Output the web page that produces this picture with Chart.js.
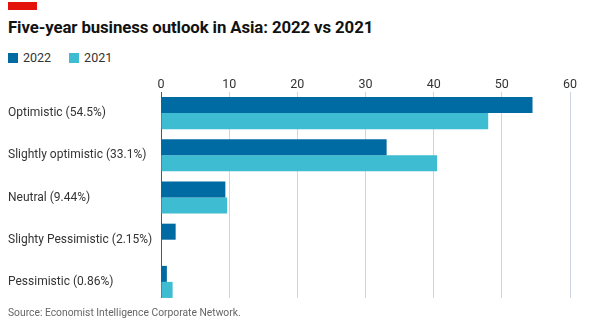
<!DOCTYPE html>
<html>
<head>
<meta charset="utf-8">
<script src="https://cdn.jsdelivr.net/npm/chart.js@4"></script>
<style>
  html, body { margin:0; padding:0; background:#fff; }
  #wrap { position:relative; width:600px; height:327px; overflow:hidden; font-family: Roboto, "Noto Sans", sans-serif; }
  #redbar { position:absolute; left:8px; top:2px; width:29px; height:8px; background:#e3120b; }
  #title { position:absolute; left:8px; top:17px; font-size:16.8px; font-weight:bold; color:#121212; white-space:nowrap; letter-spacing:-0.1px; }
  #legend { position:absolute; left:8px; top:50px; font-size:12.5px; color:#333; white-space:nowrap; }
  .li { display:inline-flex; align-items:center; margin-right:18px; }
  .sw { display:inline-block; width:10px; height:10px; margin-right:5px; }
  #source { position:absolute; left:8px; top:306px; font-size:10.3px; color:#666; white-space:nowrap; }
  canvas { position:absolute; left:0; top:0; }
</style>
</head>
<body>
<div id="wrap">
  <div id="redbar"></div>
  <div id="title">Five-year business outlook in Asia: 2022 vs 2021</div>
  <div id="legend"></div>
  <canvas id="c" width="600" height="327"></canvas>
  <div id="source">Source: Economist Intelligence Corporate Network.</div>
</div>
<script>
const categories = ['Optimistic (54.5%)', 'Slightly optimistic (33.1%)', 'Neutral (9.44%)', 'Slighty Pessimistic (2.15%)', 'Pessimistic (0.86%)'];
const seriesNames = ['2022', '2021'];
const values2022 = [54.5, 33.1, 9.44, 2.15, 0.86];
const values2021 = [48.0, 40.5, 9.7, 0, 1.7];
const xTickValues = [0, 10, 20, 30, 40, 50, 60];
const colors = ['#006ba2', '#3ebcd2'];

const legend = document.getElementById('legend');
seriesNames.forEach((n, i) => {
  const s = document.createElement('span'); s.className = 'li';
  s.innerHTML = '<span class="sw" style="background:' + colors[i] + '"></span>' + n;
  legend.appendChild(s);
});

const maskBottom = {
  id: 'maskBottom',
  beforeDatasetsDraw(chart) {
    const a = chart.chartArea, ctx = chart.ctx;
    ctx.save(); ctx.fillStyle = '#fff';
    ctx.fillRect(a.left - 2, a.bottom - 5, a.right - a.left + 6, 7);
    ctx.restore();
  }
};

new Chart(document.getElementById('c'), {
  type: 'bar',
  data: {
    labels: categories,
    datasets: [
      { label: seriesNames[0], data: values2022, backgroundColor: colors[0], categoryPercentage: 0.76, barPercentage: 1 },
      { label: seriesNames[1], data: values2021, backgroundColor: colors[1], categoryPercentage: 0.76, barPercentage: 1 }
    ]
  },
  options: {
    indexAxis: 'y',
    responsive: false,
    animation: false,
    layout: { padding: { left: 8, right: 30, top: 70, bottom: 24 } },
    plugins: { legend: { display: false }, tooltip: { enabled: false } },
    scales: {
      x: {
        position: 'top',
        min: 0, max: 60,
        afterBuildTicks: s => { s.ticks = xTickValues.map(v => ({ value: v })); },
        afterFit: s => { s.height = 22; },
        grid: { color: '#cdd6de', lineWidth: 1, drawTicks: false },
        border: { display: false },
        ticks: { padding: 0, color: '#333', font: { family: 'Roboto', size: 12.5 } }
      },
      y: {
        afterFit: s => { s.width = 153; },
        grid: { display: false, drawTicks: false },
        border: { display: true, color: '#555', width: 1 },
        ticks: { crossAlign: 'far', padding: 4, color: '#333', font: { family: 'Roboto', size: 12 } }
      }
    }
  },
  plugins: [maskBottom]
});
</script>
</body>
</html>
